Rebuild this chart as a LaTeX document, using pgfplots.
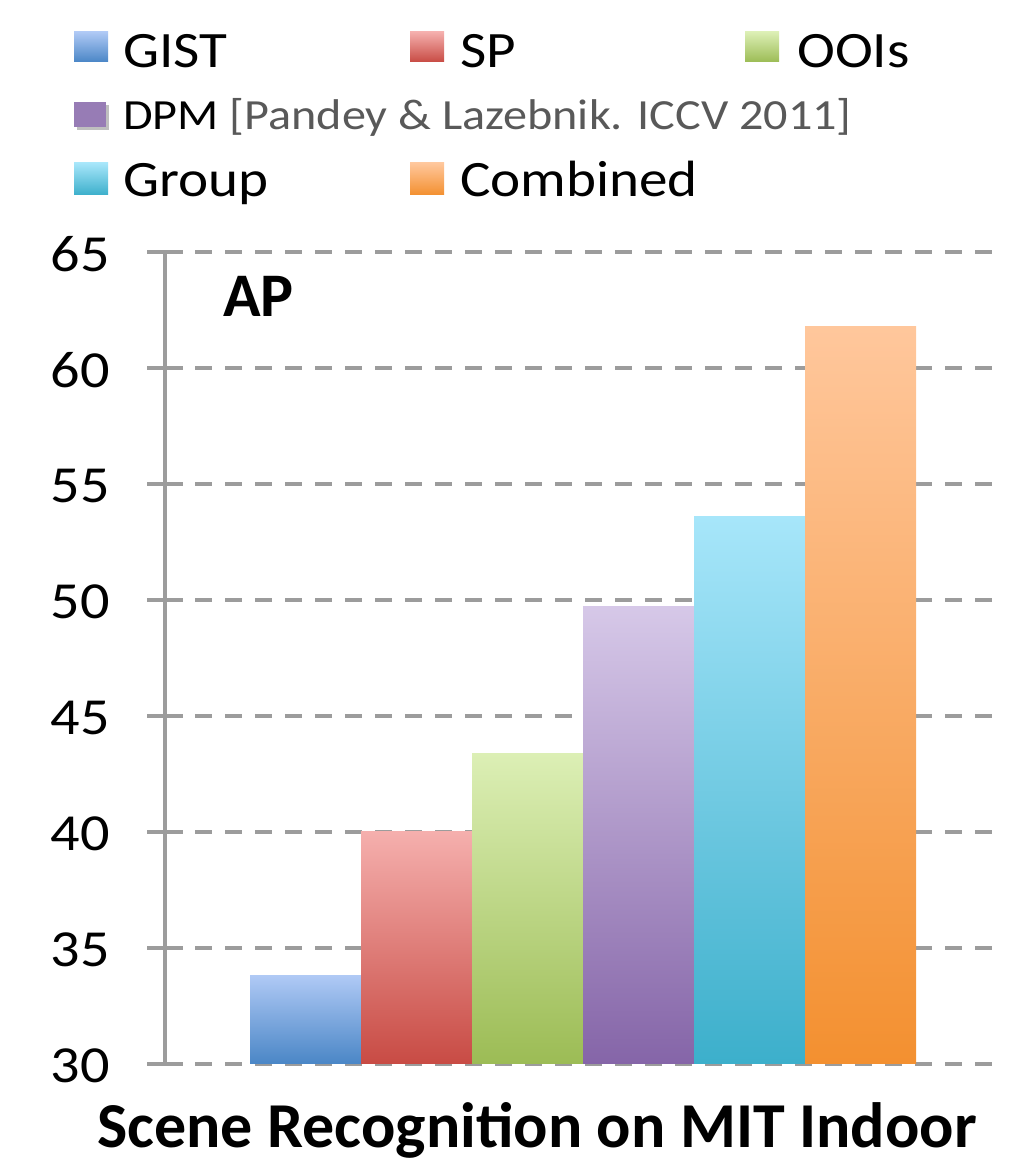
\documentclass[border=0pt]{standalone}
\usepackage{pgfplots}
\pgfplotsset{compat=1.18}
\usepackage{fontspec}
\setmainfont{Carlito}
\newfontfamily\legf[FakeStretch=1.12]{Carlito}
\newfontfamily\calf{Carlito}
\definecolor{gistT}{HTML}{AFC9F5}\definecolor{gistB}{HTML}{4A86C6}
\definecolor{spT}{HTML}{F5AFAD}\definecolor{spB}{HTML}{C84B44}
\definecolor{ooT}{HTML}{DCEFB5}\definecolor{ooB}{HTML}{9CBC55}
\definecolor{dpmT}{HTML}{D6C8E8}\definecolor{dpmB}{HTML}{8565A8}
\definecolor{grT}{HTML}{A7E6FA}\definecolor{grB}{HTML}{3CAFCB}
\definecolor{coT}{HTML}{FFC79C}\definecolor{coB}{HTML}{F39030}
\definecolor{gridc}{HTML}{9C9C9C}
\definecolor{refc}{HTML}{595959}
\begin{document}
\begin{tikzpicture}[x=1pt,y=1pt]
\path[use as bounding box] (0,0) rectangle (1011,1174);
\begin{axis}[
  at={(165pt,110pt)}, anchor=south west,
  scale only axis, width=830pt, height=812pt,
  xmin=-1.266, xmax=6.21,
  ymin=30, ymax=65,
  y coord trafo/.code={\pgfmathparse{#1-30}},
  y coord inv trafo/.code={\pgfmathparse{#1+30}},
  axis x line=none,
  axis y line=left,
  axis line style={draw=gridc, line width=3.5pt, -},
  ytick={30,35,40,45,50,55,60,65},
  xtick=\empty,
  tick align=center,
  major tick length=35pt,
  tick style={draw=gridc, line width=3.5pt},
  ymajorgrids,
  major grid style={draw=gridc, line width=3.5pt, dash pattern=on 17pt off 13pt},
  /pgf/number format/assume math mode=true,
  yticklabel style={font=\legf\fontsize{52}{60}\selectfont, anchor=east, xshift=-34pt, yshift=-2pt},
  clip=false,
]
\addplot[ybar, bar width=1, bar shift=0pt, draw=none, top color=gistT, bottom color=gistB] coordinates {(0,33.8)};
\addplot[ybar, bar width=1, bar shift=0pt, draw=none, top color=spT, bottom color=spB] coordinates {(1,40.0)};
\addplot[ybar, bar width=1, bar shift=0pt, draw=none, top color=ooT, bottom color=ooB] coordinates {(2,43.4)};
\addplot[ybar, bar width=1, bar shift=0pt, draw=none, top color=dpmT, bottom color=dpmB] coordinates {(3,49.7)};
\addplot[ybar, bar width=1, bar shift=0pt, draw=none, top color=grT, bottom color=grB] coordinates {(4,53.6)};
\addplot[ybar, bar width=1, bar shift=0pt, draw=none, top color=coT, bottom color=coB] coordinates {(5,61.8)};
\end{axis}
% AP label
\node[anchor=base west, inner sep=0pt, font=\calf\bfseries\fontsize{62}{70}\selectfont] at (223,857) {AP};
% title
\node[anchor=base, inner sep=0pt, font=\calf\bfseries\fontsize{64}{72}\selectfont] at (537,26) {Scene Recognition on MIT Indoor};
% legend
\shade[top color=gistT, bottom color=gistB] (74,1112) rectangle (108,1142);
\node[anchor=base west, inner sep=0pt, font=\legf\fontsize{51}{60}\selectfont] at (123,1106) {GIST};
\shade[top color=spT, bottom color=spB] (410,1112) rectangle (444,1142);
\node[anchor=base west, inner sep=0pt, font=\legf\fontsize{51}{60}\selectfont] at (460,1106) {SP};
\shade[top color=ooT, bottom color=ooB] (745,1112) rectangle (779,1142);
\node[anchor=base west, inner sep=0pt, font=\legf\fontsize{51}{60}\selectfont] at (797,1106) {OOIs};
\fill[black!25] (77,1044) rectangle (109,1069);
\fill[dpmB!85!white] (74,1047) rectangle (106,1072);
\node[anchor=base west, inner sep=0pt, font=\legf\fontsize{43}{50}\selectfont] at (123,1044) {DPM \textcolor{refc}{[Pandey \& Lazebnik. ICCV 2011]}};
\shade[top color=grT, bottom color=grB] (74,979) rectangle (108,1011);
\node[anchor=base west, inner sep=0pt, font=\legf\fontsize{51}{60}\selectfont] at (123,977) {Group};
\shade[top color=coT, bottom color=coB] (410,979) rectangle (444,1011);
\node[anchor=base west, inner sep=0pt, font=\legf\fontsize{51}{60}\selectfont] at (460,977) {Combined};
\end{tikzpicture}
\end{document}
